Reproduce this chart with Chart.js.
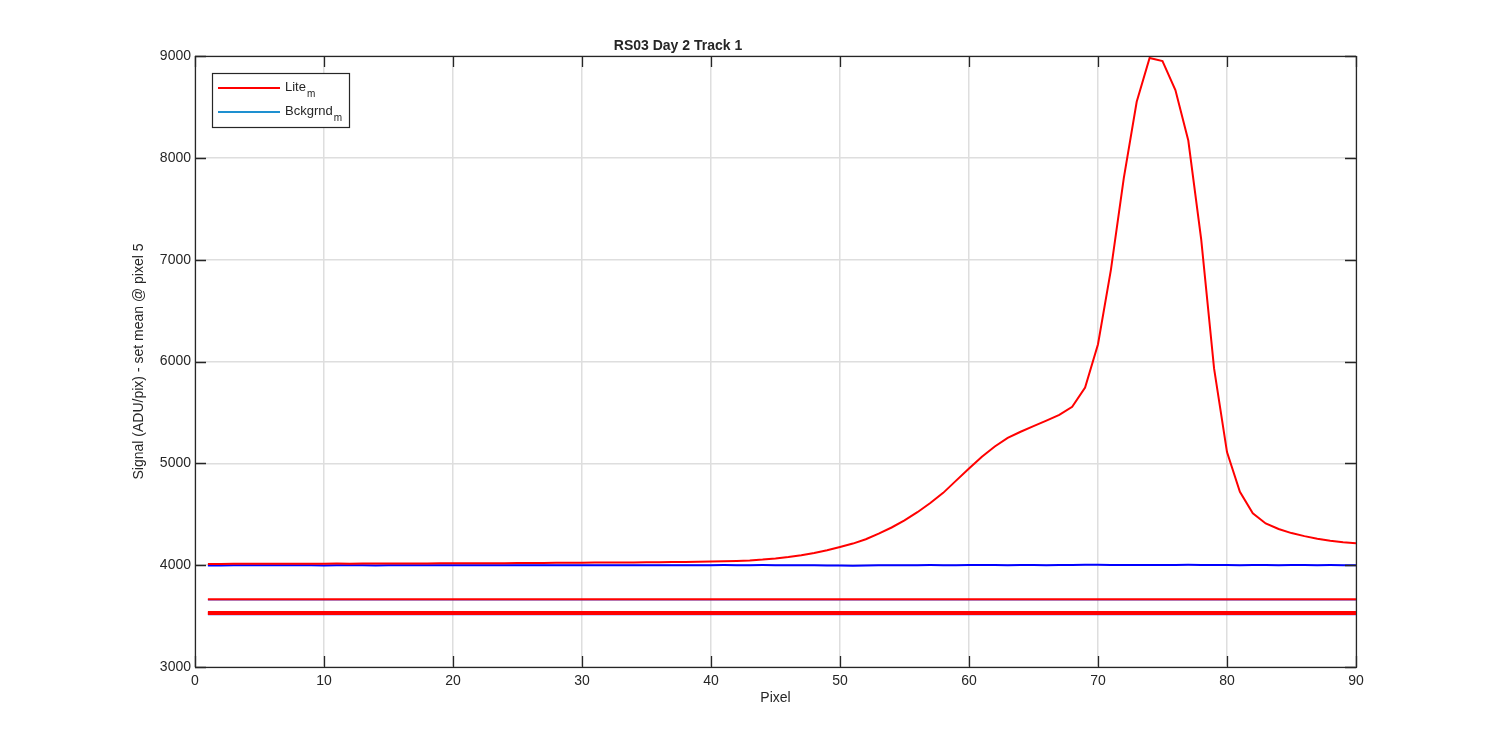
<!DOCTYPE html>
<html>
<head>
<meta charset="utf-8">
<script src="https://cdn.jsdelivr.net/npm/chart.js@4.4.1/dist/chart.umd.min.js"></script>
<style>
    html, body { margin: 0; padding: 0; background: #fff; }
    #wrap { width: 1500px; height: 750px; }
</style>
</head>
<body>
<div id="wrap"><canvas id="chart" width="1500" height="750"></canvas></div>
<script>
// pixel index along the track
var pixels = [
    1, 2, 3, 4, 5, 6, 7, 8, 9, 10, 11, 12, 13, 14, 15, 16, 17, 18, 19, 20,
    21, 22, 23, 24, 25, 26, 27, 28, 29, 30, 31, 32, 33, 34, 35, 36, 37, 38, 39, 40,
    41, 42, 43, 44, 45, 46, 47, 48, 49, 50, 51, 52, 53, 54, 55, 56, 57, 58, 59, 60,
    61, 62, 63, 64, 65, 66, 67, 68, 69, 70, 71, 72, 73, 74, 75, 76, 77, 78, 79, 80,
    81, 82, 83, 84, 85, 86, 87, 88, 89, 90
];

// Lite_m signal
var liteValues = [
    4012, 4012, 4013, 4013, 4014, 4013, 4014, 4014, 4015, 4015,
    4016, 4015, 4016, 4016, 4017, 4017, 4016, 4017, 4018, 4018,
    4019, 4019, 4020, 4020, 4021, 4021, 4022, 4023, 4023, 4024,
    4025, 4026, 4027, 4027, 4028, 4029, 4030, 4032, 4034, 4036,
    4039, 4042, 4047, 4055, 4066, 4080, 4098, 4120, 4146, 4178,
    4212, 4255, 4310, 4370, 4440, 4520, 4610, 4710, 4830, 4950,
    5065, 5165, 5250, 5310, 5365, 5420, 5475, 5555, 5745, 6170,
    6900, 7800, 8550, 8980, 8950, 8665, 8170, 7200, 5930, 5110,
    4720, 4510, 4410, 4355, 4315, 4285, 4260, 4240, 4225, 4215
];

// Bckgrnd_m signal
var bckgrndValues = [
    3997, 3997, 3998, 3998, 3999, 3998, 3998, 3999, 3998, 3997,
    3998, 3999, 3998, 3997, 3998, 3998, 3999, 3999, 4000, 4000,
    3999, 3998, 3998, 3999, 3999, 4000, 3999, 3999, 3998, 3999,
    4000, 4000, 3999, 3998, 3999, 4000, 4000, 3999, 3999, 4000,
    4001, 4000, 4000, 4001, 4000, 3999, 3999, 3998, 3997, 3996,
    3994, 3996, 3998, 3999, 4000, 4000, 4001, 4000, 4000, 4001,
    4002, 4001, 4000, 4002, 4001, 4000, 4001, 4002, 4004, 4003,
    4002, 4001, 4001, 4002, 4001, 4002, 4003, 4002, 4002, 4001,
    4000, 4001, 4001, 4000, 4001, 4001, 4000, 4001, 4000, 4000
];

// the flat individual tracks under the means (start and end pixel)
var flatRange = [1, 90];
var flatRedLevels = [3665, 3540, 3530, 3521];
var flatBlueLevels = [3660, 3516];

var xTicks = [0, 10, 20, 30, 40, 50, 60, 70, 80, 90];
var yTicks = [3000, 4000, 5000, 6000, 7000, 8000, 9000];

var FONT = "'Liberation Sans', Arial, Helvetica, sans-serif";
var AXIS_COLOR = "#262626";

function toPoints(xs, ys) {
    var pts = [];
    for (var i = 0; i < xs.length; i++) {
        pts.push({ x: xs[i], y: ys[i] });
    }
    return pts;
}

function flatLine(level, color, width) {
    return {
        data: [{ x: flatRange[0], y: level }, { x: flatRange[1], y: level }],
        borderColor: color,
        borderWidth: width,
    };
}

// dataset 0 ends up on top, so the red ones go first
var datasets = [
    {
        label: "Lite",
        data: toPoints(pixels, liteValues),
        borderColor: "#ff0000",
        borderWidth: 2,
    },
];
flatRedLevels.forEach(function (lv) {
    datasets.push(flatLine(lv, "#ff0000", 2));
});
datasets.push({
    label: "Bckgrnd",
    data: toPoints(pixels, bckgrndValues),
    borderColor: "#0000ff",
    borderWidth: 2,
});
flatBlueLevels.forEach(function (lv) {
    datasets.push(flatLine(lv, "#4040d8", 1.5));
});

// box, inward ticks and subscripted legend, drawn like the original figure
var matlabAxes = {
    id: "matlabAxes",
    afterDatasetsDraw: function (chart) {
        var ctx = chart.ctx;
        var a = chart.chartArea;
        var xs = chart.scales.x;
        var ys = chart.scales.y;
        var tl = 11;
        ctx.save();
        ctx.strokeStyle = AXIS_COLOR;
        ctx.lineWidth = 1.3;
        ctx.beginPath();
        xTicks.forEach(function (v) {
            var px = Math.round(xs.getPixelForValue(v)) + 0.5;
            ctx.moveTo(px, a.bottom);
            ctx.lineTo(px, a.bottom - tl);
            ctx.moveTo(px, a.top);
            ctx.lineTo(px, a.top + tl);
        });
        yTicks.forEach(function (v) {
            var py = Math.round(ys.getPixelForValue(v)) + 0.5;
            ctx.moveTo(a.left, py);
            ctx.lineTo(a.left + tl, py);
            ctx.moveTo(a.right, py);
            ctx.lineTo(a.right - tl, py);
        });
        ctx.stroke();
        ctx.lineWidth = 1.2;
        ctx.strokeRect(Math.round(a.left) + 0.5, Math.round(a.top) + 0.5,
            Math.round(a.right - a.left), Math.round(a.bottom - a.top));
        ctx.restore();
    },
    afterDraw: function (chart) {
        var ctx = chart.ctx;
        var bx = 212, by = 73, bw = 137, bh = 54;
        ctx.save();
        ctx.fillStyle = "#ffffff";
        ctx.fillRect(bx, by, bw, bh);
        ctx.strokeStyle = AXIS_COLOR;
        ctx.lineWidth = 1.2;
        ctx.strokeRect(bx + 0.5, by + 0.5, bw, bh);

        var items = [
            { text: "Lite", sub: "m", color: "#ff0000", y: 88 },
            { text: "Bckgrnd", sub: "m", color: "#1e90d0", y: 112 },
        ];
        items.forEach(function (it) {
            ctx.strokeStyle = it.color;
            ctx.lineWidth = 2;
            ctx.beginPath();
            ctx.moveTo(218, it.y);
            ctx.lineTo(280, it.y);
            ctx.stroke();

            ctx.fillStyle = AXIS_COLOR;
            ctx.textBaseline = "middle";
            ctx.textAlign = "left";
            ctx.font = "13px " + FONT;
            ctx.fillText(it.text, 285, it.y - 1);
            var w = ctx.measureText(it.text).width;
            ctx.font = "10px " + FONT;
            ctx.fillText(it.sub, 285 + w + 1, it.y + 6);
        });
        ctx.restore();
    },
};

var ctx = document.getElementById("chart").getContext("2d");
var myLineChart = new Chart(ctx, {
    type: "line",
    data: { datasets: datasets },
    options: {
        responsive: false,
        animation: false,
        devicePixelRatio: 1,
        layout: {
            padding: { top: 0, right: 144, bottom: 0, left: 0 },
        },
        elements: {
            point: { radius: 0 },
            line: { tension: 0 },
        },
        plugins: {
            legend: { display: false },
            tooltip: { enabled: false },
            title: {
                display: true,
                text: "RS03 Day 2 Track 1",
                color: AXIS_COLOR,
                font: { family: FONT, size: 14, weight: "bold" },
                padding: { top: 38, bottom: 1.2 },
            },
        },
        scales: {
            x: {
                type: "linear",
                min: 0,
                max: 90,
                afterBuildTicks: function (scale) {
                    scale.ticks = xTicks.map(function (v) { return { value: v }; });
                },
                afterFit: function (scale) {
                    scale.height = 83;
                },
                ticks: {
                    color: AXIS_COLOR,
                    font: { family: FONT, size: 14 },
                    padding: 6,
                    maxRotation: 0,
                    callback: function (value) {
                        return String(value);
                    },
                },
                grid: {
                    color: "#dedede",
                    lineWidth: 1.5,
                    drawTicks: false,
                },
                border: { display: false },
                title: {
                    display: true,
                    text: "Pixel",
                    color: AXIS_COLOR,
                    font: { family: FONT, size: 14 },
                    padding: { top: 0, bottom: 43.6 },
                },
            },
            y: {
                type: "linear",
                min: 3000,
                max: 9000,
                afterBuildTicks: function (scale) {
                    scale.ticks = yTicks.map(function (v) { return { value: v }; });
                },
                afterFit: function (scale) {
                    scale.width = 195;
                },
                ticks: {
                    color: AXIS_COLOR,
                    font: { family: FONT, size: 14 },
                    padding: 4,
                    callback: function (value) {
                        return String(value);
                    },
                },
                grid: {
                    color: "#dedede",
                    lineWidth: 1.5,
                    drawTicks: false,
                },
                border: { display: false },
                title: {
                    display: true,
                    text: "Signal (ADU/pix) - set mean @ pixel 5",
                    color: AXIS_COLOR,
                    font: { family: FONT, size: 14 },
                    padding: { top: 130.6, bottom: 0 },
                },
            },
        },
    },
    plugins: [matlabAxes],
});
</script>
</body>
</html>
